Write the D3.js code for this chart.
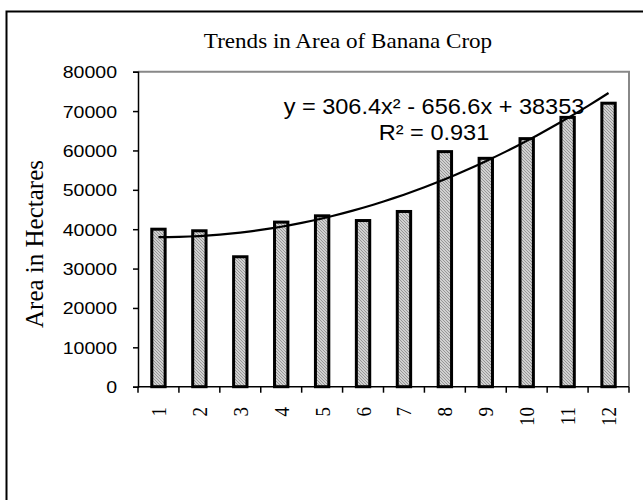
<!DOCTYPE html>
<html>
<head>
<meta charset="utf-8">
<script src="https://cdn.jsdelivr.net/npm/d3@7"></script>
<style>
  body { margin: 0; background: #fff; }
  svg { display: block; }
</style>
</head>
<body>
<svg id="chart" width="643" height="500"></svg>
<script>
// data
const years = [1, 2, 3, 4, 5, 6, 7, 8, 9, 10, 11, 12];
const area = [40000, 39600, 33000, 41800, 43400, 42200, 44500, 59700, 58000, 63000, 68400, 72000];
const yTicks = [0, 10000, 20000, 30000, 40000, 50000, 60000, 70000, 80000];
// trendline coefficients as printed on the chart: a*x^2 + b*x + c
const trendCoef = [306.4, -656.6, 38353];
const eqLines = ["y = 306.4x\u00b2 - 656.6x + 38353", "R\u00b2 = 0.931"];

const svg = d3.select("#chart");
const stretch = 1.15; // text in the picture is a bit wider than normal

let plotLeft = 138, plotRight = 629, plotTop = 71.7, plotBottom = 386.7;

// outer frame
svg.append("rect")
    .attr("x", 6.5).attr("y", 11.5)
    .attr("width", 700).attr("height", 600)
    .attr("fill", "none").attr("stroke", "#000").attr("stroke-width", 2);

// hatch for bars
let defs = svg.append("defs");
let pat = defs.append("pattern")
    .attr("id", "hatch")
    .attr("patternUnits", "userSpaceOnUse")
    .attr("width", 3).attr("height", 3);
pat.append("rect").attr("width", 3).attr("height", 3).attr("fill", "#d0d0d0");
pat.append("path").attr("d", "M0,0 L3,3 M-1,2 L1,4 M2,-1 L4,1")
    .attr("stroke", "#888").attr("stroke-width", 0.8);

let x = d3.scaleBand()
    .domain(years)
    .range([plotLeft, plotRight])
    .paddingInner(0.6)
    .paddingOuter(0.3);

let y = d3.scaleLinear()
    .domain([0, 80000])
    .range([plotBottom, plotTop]);

// plot area border (grey top + right)
svg.append("path")
    .attr("d", `M${plotLeft},${plotTop} H${plotRight} V${plotBottom}`)
    .attr("fill", "none").attr("stroke", "#888").attr("stroke-width", 2);

// bars
svg.selectAll(".bar")
    .data(years)
    .enter().append("rect")
    .attr("class", "bar")
    .attr("x", d => x(d) + 1.5)
    .attr("width", x.bandwidth() - 3)
    .attr("y", (d, i) => y(area[i]))
    .attr("height", (d, i) => y(0) - y(area[i]))
    .attr("fill", "url(#hatch)")
    .attr("stroke", "#000")
    .attr("stroke-width", 3);

// y axis
let yAxis = svg.append("g")
    .attr("transform", `translate(${plotLeft},0)`)
    .call(d3.axisLeft(y).tickValues(yTicks).tickSize(5).tickFormat(d3.format("d")));
yAxis.select(".domain").attr("stroke-width", 1.5);
yAxis.selectAll(".tick line").attr("stroke-width", 1.5);
yAxis.selectAll(".tick text")
    .attr("font-family", "Liberation Sans, Arial, sans-serif")
    .attr("font-size", 17)
    .attr("fill", "#000")
    .attr("x", null).attr("dy", null)
    .attr("text-anchor", "end")
    .attr("dominant-baseline", "central")
    .attr("transform", `translate(-21,0) scale(${stretch},1)`);

// x axis, ticks at category edges
let edges = years.map(d => x(d) - x.step() * 0.3).concat([plotRight]);
svg.append("line")
    .attr("x1", plotLeft).attr("x2", plotRight)
    .attr("y1", plotBottom).attr("y2", plotBottom)
    .attr("stroke", "#000").attr("stroke-width", 1.5);
svg.selectAll(".xtick")
    .data(edges)
    .enter().append("line")
    .attr("x1", d => d).attr("x2", d => d)
    .attr("y1", plotBottom).attr("y2", plotBottom + 6)
    .attr("stroke", "#000").attr("stroke-width", 1.5);

svg.selectAll(".xlab")
    .data(years)
    .enter().append("text")
    .attr("transform", d => `translate(${x(d) + x.bandwidth() / 2},407) rotate(-90) scale(1,${stretch})`)
    .attr("text-anchor", "end")
    .attr("dominant-baseline", "central")
    .attr("font-family", "Liberation Serif, Times New Roman, serif")
    .attr("font-size", 19)
    .text(d => d);

// trendline, drawn from the printed equation between the first and last category
let tx = d3.range(1, 12.01, 0.25);
svg.append("path")
    .datum(tx)
    .attr("d", d3.line()
        .x(d => x(1) + x.bandwidth() / 2 + (d - 1) * x.step())
        .y(d => y(trendCoef[0] * d * d + trendCoef[1] * d + trendCoef[2])))
    .attr("fill", "none").attr("stroke", "#000").attr("stroke-width", 2.2);

// equation label
svg.selectAll(".eq")
    .data(eqLines)
    .enter().append("text")
    .attr("transform", (d, i) => `translate(434,${114 + i * 26}) scale(${stretch * 0.93},1)`)
    .attr("text-anchor", "middle")
    .attr("font-family", "Liberation Sans, Arial, sans-serif")
    .attr("font-size", 22)
    .text(d => d);

// title
svg.append("text")
    .attr("transform", `translate(348,48) scale(1.1,1)`)
    .attr("text-anchor", "middle")
    .attr("font-family", "Liberation Serif, Times New Roman, serif")
    .attr("font-size", 21)
    .text("Trends in Area of Banana Crop");

// y axis title
svg.append("text")
    .attr("transform", `translate(43,244) rotate(-90)`)
    .attr("text-anchor", "middle")
    .attr("font-family", "Liberation Serif, Times New Roman, serif")
    .attr("font-size", 25)
    .text("Area in Hectares");
</script>
</body>
</html>
